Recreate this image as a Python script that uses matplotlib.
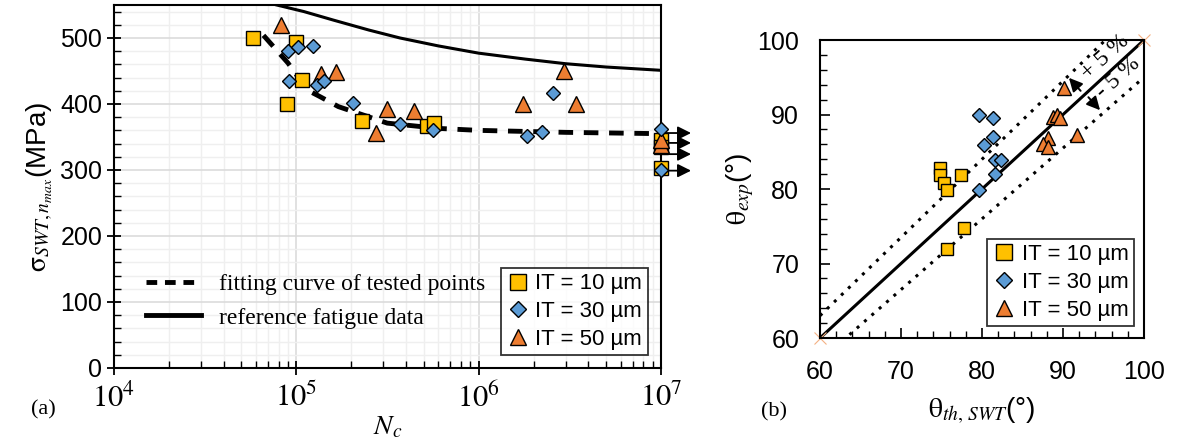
import numpy as np
import matplotlib
matplotlib.use('Agg')
import matplotlib.pyplot as plt
from matplotlib.ticker import LogLocator, FuncFormatter, MultipleLocator, NullFormatter
from matplotlib.lines import Line2D

plt.rcParams['font.family'] = ['Liberation Sans', 'DejaVu Sans']
plt.rcParams['mathtext.fontset'] = 'stix'

# ---- panel (a) data ----
sq_n = [5.8e4, 1.0e5, 8.9e4, 1.07e5, 2.3e5, 5.2e5, 5.7e5, 1e7, 1e7, 1e7]
sq_s = [500, 494, 400, 436, 374, 367, 371, 345, 335, 303]
di_n = [9.0e4, 1.02e5, 1.23e5, 9.1e4, 1.29e5, 1.41e5, 2.05e5, 3.7e5, 5.6e5, 1.84e6, 2.23e6, 2.57e6, 1e7, 1e7]
di_s = [480, 486, 488, 435, 429, 435, 402, 370, 361, 351, 357, 417, 362, 300]
tr_n = [8.2e4, 1.36e5, 1.65e5, 3.15e5, 2.74e5, 4.4e5, 1.74e6, 2.95e6, 3.4e6, 1e7, 1e7]
tr_s = [519, 446, 448, 392, 356, 389, 400, 450, 400, 338, 345]

fit_n = [6.6e4, 9e4, 1.15e5, 1.35e5, 1.7e5, 3.15e5, 6e5, 1e6, 3e6, 1e7]
fit_s = [504, 462, 421, 411, 396, 371, 363, 360, 357, 355]

ref_n = [7.8e4, 1.1e5, 1.6e5, 2.5e5, 3.7e5, 6e5, 1e6, 1.8e6, 3e6, 5e6, 1e7]
ref_s = [550, 540, 527, 512, 500, 488, 477, 468, 461, 456, 451]

runout_s = [356, 341, 324, 299]

# ---- panel (b) data ----
sq_th = [74.8, 74.8, 75.3, 75.7, 77.4, 77.8, 75.7]
sq_ex = [82.8, 81.9, 80.8, 79.9, 81.9, 74.8, 71.9]
di_th = [79.6, 81.3, 81.3, 80.2, 81.6, 82.3, 81.6, 79.6]
di_ex = [89.9, 89.5, 87.0, 85.9, 83.9, 83.9, 82.0, 79.9]
tr_th = [90.1, 88.8, 89.3, 89.6, 88.1, 87.5, 88.1, 91.7]
tr_ex = [93.6, 89.7, 90.0, 89.5, 86.8, 86.1, 85.6, 87.2]

c_sq = '#FFC000'
c_di = '#5B9BD5'
c_tr = '#ED7D31'

fig = plt.figure(figsize=(11.77, 4.48), dpi=100)

# ================= (a) =================
ax = fig.add_axes([0.0969, 0.1786, 0.4647, 0.8103])
ax.set_xscale('log')
ax.set_xlim(1e4, 1e7)
ax.set_ylim(0, 550)
ax.xaxis.set_major_locator(LogLocator(base=10, numticks=10))
ax.xaxis.set_minor_locator(LogLocator(base=10, subs=np.arange(2, 10), numticks=20))
ax.xaxis.set_major_formatter(FuncFormatter(lambda v, p: r'$10^{%d}$' % round(np.log10(v))))
ax.xaxis.set_minor_formatter(NullFormatter())
ax.yaxis.set_major_locator(MultipleLocator(100))
ax.yaxis.set_minor_locator(MultipleLocator(20))
ax.grid(which='major', color='#D9D9D9', lw=1.1)
ax.grid(which='minor', color='#EFEFEF', lw=1.0)
ax.set_axisbelow(True)
ax.tick_params(which='major', direction='inout', length=10, width=1.3, labelsize=18)
ax.tick_params(which='minor', direction='in', length=5, width=1.0)
ax.tick_params(axis='x', which='major', labelsize=22, pad=6)
for sp in ax.spines.values():
    sp.set_linewidth(1.5)

ax.plot(ref_n, ref_s, color='k', lw=2.2, zorder=2)
ax.plot(fit_n, fit_s, color='k', lw=3.5, ls=(0, (3.0, 2.2)), zorder=2)

mk = dict(mec='k', mew=1.0, ls='none', clip_on=False, zorder=4)
ax.plot(sq_n, sq_s, 's', color=c_sq, ms=10, **mk)
ax.plot(tr_n, tr_s, '^', color=c_tr, ms=11, **mk)
ax.plot(di_n, di_s, 'D', color=c_di, ms=7.5, **mk)

for v in runout_s:
    ax.annotate('', xy=(1.06, v), xycoords=('axes fraction', 'data'),
                xytext=(1.0, v), textcoords=('axes fraction', 'data'),
                arrowprops=dict(arrowstyle='-|>', color='k', lw=1.3, mutation_scale=20),
                annotation_clip=False)

ax.set_xlabel(r'$N_c$', fontsize=20, labelpad=0)
ax.set_ylabel(r'$\mathrm{\sigma}_{SWT,n_{max}}$' + '(MPa)', fontsize=20, labelpad=4)

h1 = [Line2D([], [], color='k', lw=3.5, ls=(0, (2.2, 1.6))),
      Line2D([], [], color='k', lw=3.5)]
leg1 = ax.legend(h1, ['fitting curve of tested points', 'reference fatigue data'],
                 loc='lower left', bbox_to_anchor=(0.02, 0.05), frameon=False,
                 prop={'family': 'Liberation Serif', 'size': 17}, handlelength=2.3,
                 labelspacing=0.5)
ax.add_artist(leg1)

h2 = [Line2D([], [], marker='s', color=c_sq, mec='k', ms=11, ls='none'),
      Line2D([], [], marker='D', color=c_di, mec='k', ms=8, ls='none'),
      Line2D([], [], marker='^', color=c_tr, mec='k', ms=12, ls='none')]
leg2 = ax.legend(h2, ['IT = 10 µm', 'IT = 30 µm', 'IT = 50 µm'], loc='lower right',
                 bbox_to_anchor=(0.976, 0.035), fontsize=16, frameon=True, fancybox=False,
                 edgecolor='k', handlelength=1.0, handletextpad=0.3, borderpad=0.25,
                 labelspacing=0.3, borderaxespad=0)
leg2.get_frame().set_linewidth(1.3)

fig.text(0.0365, 0.085, '(a)', family='Liberation Serif', fontsize=16, ha='center', va='center')

# ================= (b) =================
bx = fig.add_axes([0.6967, 0.2455, 0.2753, 0.6652])
bx.set_xlim(60, 100)
bx.set_ylim(60, 100)
bx.xaxis.set_major_locator(MultipleLocator(10))
bx.xaxis.set_minor_locator(MultipleLocator(2))
bx.yaxis.set_major_locator(MultipleLocator(10))
bx.yaxis.set_minor_locator(MultipleLocator(2))
bx.tick_params(which='major', direction='in', length=7, width=1.2, labelsize=18)
bx.tick_params(axis='y', which='major', pad=15)
bx.tick_params(axis='x', which='major', pad=16)
bx.tick_params(which='minor', direction='in', length=5, width=1.0)
for sp in bx.spines.values():
    sp.set_linewidth(1.5)

line = np.array([60, 100])
bx.plot(line, line, color='k', lw=2.2, zorder=2)
bx.plot(line, 1.05 * line, color='k', lw=2.2, ls=(0, (1, 2.2)), zorder=2)
bx.plot(line, 0.95 * line, color='k', lw=2.2, ls=(0, (1, 2.2)), zorder=2)
bx.plot([60, 100], [60, 100], 'x', color='#F4B183', ms=8, mew=0.8, ls='none', clip_on=False)

bx.plot(sq_th, sq_ex, 's', color=c_sq, ms=8, **mk)
bx.plot(di_th, di_ex, 'D', color=c_di, ms=7, **mk)
bx.plot(tr_th, tr_ex, '^', color=c_tr, ms=10, **mk)

bx.annotate('', xy=(90.5, 95.2), xytext=(92.4, 92.9),
            arrowprops=dict(arrowstyle='-|>', color='k', lw=1.4, mutation_scale=20))
bx.annotate('', xy=(94.8, 90.3), xytext=(92.9, 92.6),
            arrowprops=dict(arrowstyle='-|>', color='k', lw=1.4, mutation_scale=20))
bx.text(92.6, 95.2, '+ 5 %', rotation=42, rotation_mode='anchor', family='Liberation Serif',
        fontsize=17, ha='left', va='center')
bx.text(94.5, 92.6, '- 5 %', rotation=42, rotation_mode='anchor', family='Liberation Serif',
        fontsize=17, ha='left', va='center')

bx.set_xlabel(r'$\mathrm{\theta}_{th,\,SWT}$' + '(°)', fontsize=20, labelpad=8)
bx.set_ylabel(r'$\mathrm{\theta}_{exp}$' + '(°)', fontsize=20, labelpad=1)

h3 = [Line2D([], [], marker='s', color=c_sq, mec='k', ms=11, ls='none'),
      Line2D([], [], marker='D', color=c_di, mec='k', ms=8, ls='none'),
      Line2D([], [], marker='^', color=c_tr, mec='k', ms=12, ls='none')]
leg3 = bx.legend(h3, ['IT = 10 µm', 'IT = 30 µm', 'IT = 50 µm'], loc='lower right',
                 bbox_to_anchor=(0.97, 0.04), fontsize=16, frameon=True, fancybox=False,
                 edgecolor='k', handlelength=1.0, handletextpad=0.3, borderpad=0.25,
                 labelspacing=0.3, borderaxespad=0)
leg3.get_frame().set_linewidth(1.3)

fig.text(0.658, 0.080, '(b)', family='Liberation Serif', fontsize=16, ha='center', va='center')

fig.savefig('out.png', dpi=100)
